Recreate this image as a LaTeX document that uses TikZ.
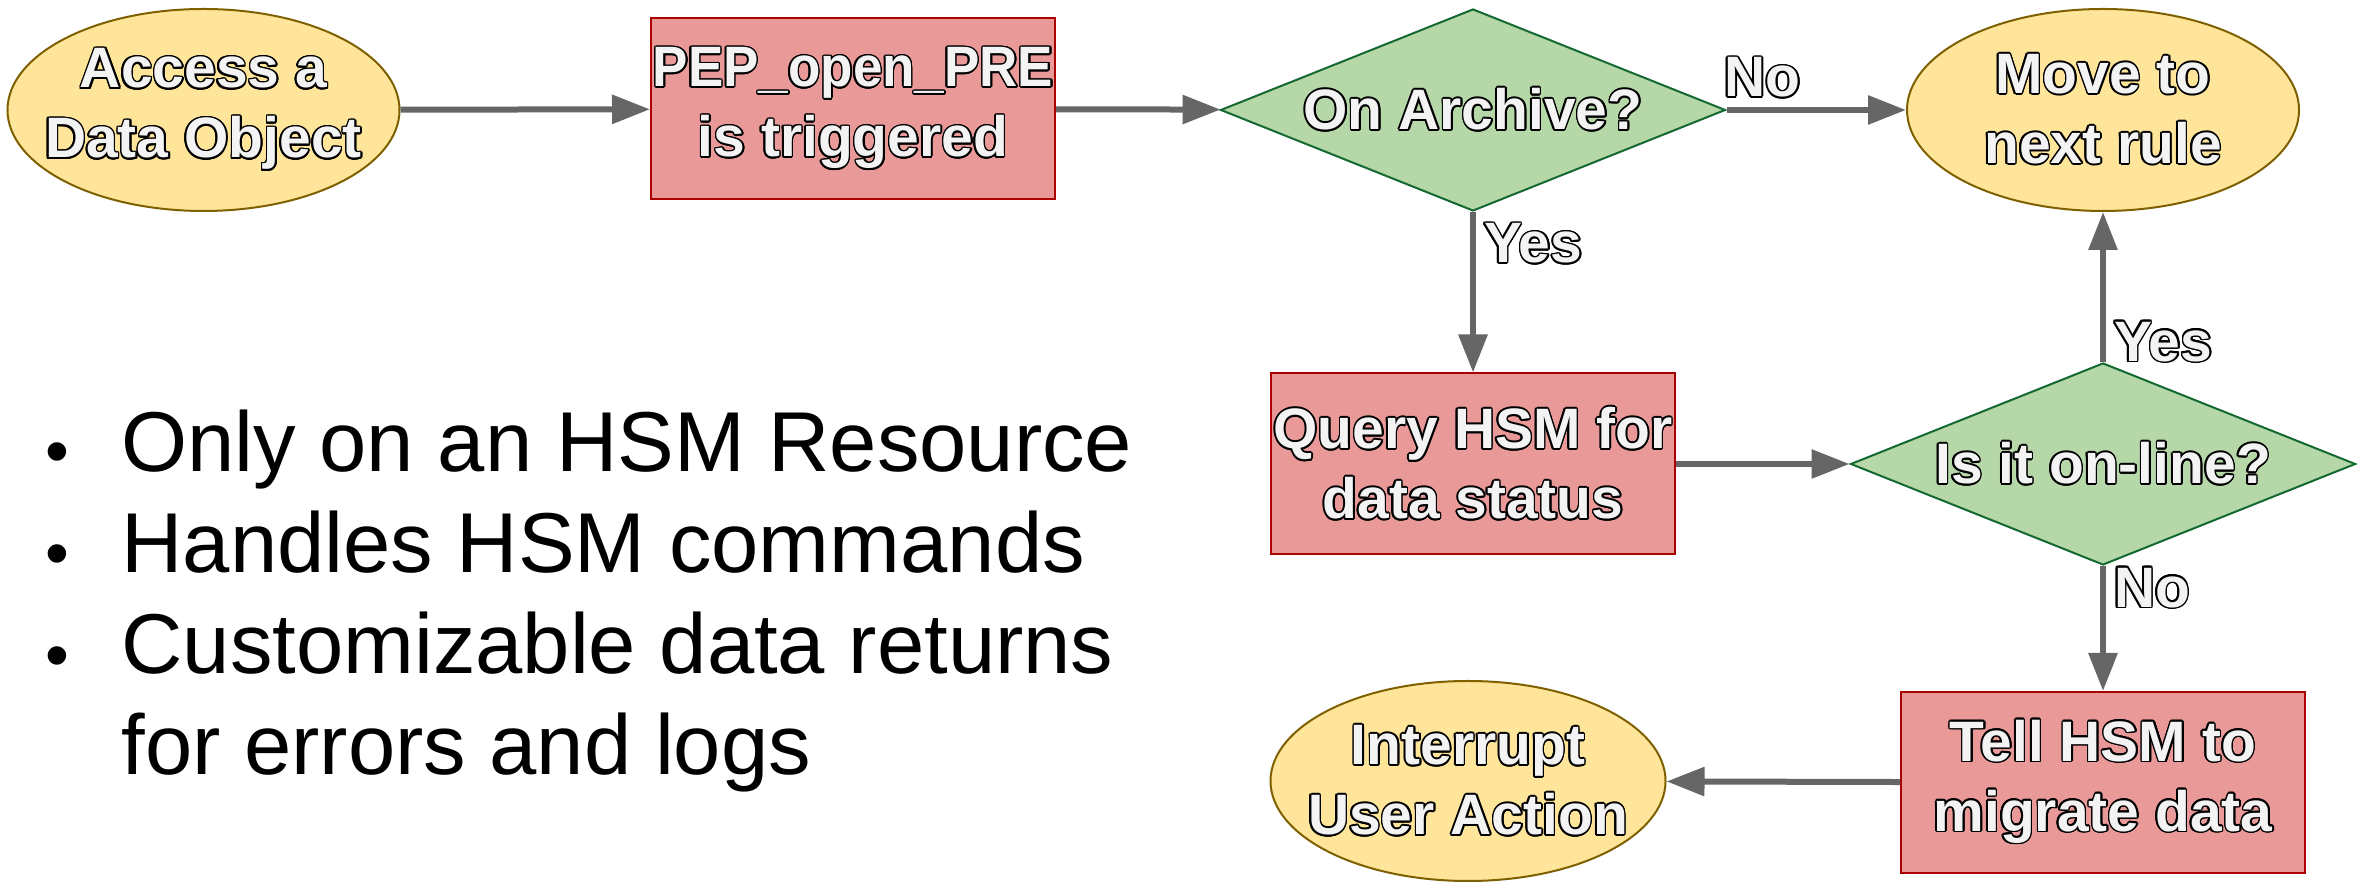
\documentclass[tikz,border=0pt]{standalone}
\usepackage{fontspec}
\setmainfont{Liberation Sans}
\usepackage{xcolor}
\usepackage{contour}
\usetikzlibrary{shapes.geometric,arrows.meta}
\contourlength{0.8pt}
\newcommand{\outl}[1]{\contour{black}{#1}}

\begin{document}
\begin{tikzpicture}[x=0.5pt,y=0.5pt,
  flowText/.style={text=textColor,font=\bfseries\fontsize{28.5}{35}\selectfont,align=center},
  startStop/.style={ellipse,draw=ovalDraw,fill=ovalFill,line width=1pt,minimum width=196pt,minimum height=101pt,inner sep=0pt},
  process/.style={rectangle,draw=boxDraw,fill=boxFill,line width=1pt,minimum width=202pt,minimum height=90.5pt,inner xsep=0pt,flowText},
  decision/.style={diamond,draw=diaDraw,fill=diaFill,line width=1pt,minimum width=252.5pt,minimum height=101pt,inner sep=0pt},
  flowArrow/.style={draw=arrowColor,line width=3pt,-{Triangle[length=19pt,width=14pt]}},
  edgeLabel/.style={flowText,inner sep=4pt},
  bulletDot/.style={inner sep=0pt,font=\fontsize{34}{40}\selectfont},
  bulletText/.style={anchor=base west,inner sep=0pt,font=\fontsize{42.5}{50}\selectfont}]
\definecolor{fillColor}{RGB}{255,255,255}
\definecolor{textColor}{RGB}{243,243,243}
\definecolor{ovalFill}{RGB}{255,229,153}
\definecolor{ovalDraw}{RGB}{127,96,0}
\definecolor{boxFill}{RGB}{234,153,153}
\definecolor{boxDraw}{RGB}{170,0,0}
\definecolor{diaFill}{RGB}{182,215,168}
\definecolor{diaDraw}{RGB}{20,105,50}
\definecolor{arrowColor}{RGB}{102,102,102}
\path[use as bounding box,fill=fillColor] (0,0) rectangle (2364,882);

% flow chart
\node[startStop,label={[flowText]center:{\outl{Access a}\\\outl{Data Object}}}] (access) at (203.5,772) {};
\node[process] (pep) at (853,773) {\scalebox{0.93}[1]{\outl{PEP\_open\_PRE}}\\\outl{is triggered}};
\node[decision,label={[flowText]center:{\outl{On Archive?}}}] (archive) at (1473,772) {};
\node[startStop,label={[flowText]center:{\outl{Move to}\\\outl{next rule}}}] (next) at (2103,772) {};
\node[process] (query) at (1473,418) {\outl{Query HSM for}\\\outl{data status}};
\node[decision,label={[flowText]center:{\outl{Is it on-line?}}}] (online) at (2103,418) {};
\node[process] (migrate) at (2103,99.5) {\outl{Tell HSM to}\\\outl{migrate data}};
\node[startStop,minimum width=197.5pt,minimum height=100pt,label={[flowText]center:{\outl{Interrupt}\\\outl{User Action}}}] (interrupt) at (1468,101) {};

\path[flowArrow] (access) -- (pep);
\path[flowArrow] (pep) -- (archive);
\path[flowArrow] (archive.east) -- node[edgeLabel,above,pos=0.2] {\outl{No}} (next);
\path[flowArrow] (archive.south) -- node[edgeLabel,right,pos=0.2] {\outl{Yes}} (query);
\path[flowArrow] (query) -- (online);
\path[flowArrow] (online.north) -- node[edgeLabel,right,pos=0.13] {\outl{Yes}} (next);
\path[flowArrow] (online.south) -- node[edgeLabel,right,pos=0.18] {\outl{No}} (migrate);
\path[flowArrow] (migrate) -- (interrupt);

% bullet list
\node[bulletDot] (dotA) at (57,423) {\textbullet};
\node[bulletDot] (dotB) at (57,321) {\textbullet};
\node[bulletDot] (dotC) at (57,219) {\textbullet};
\node[bulletText] (itemA) at (121,410) {Only on an HSM Resource};
\node[bulletText] (itemB) at (121,309) {Handles HSM commands};
\node[bulletText] (itemC) at (121,208) {Customizable data returns};
\node[bulletText] (itemD) at (121,107) {for errors and logs};
\end{tikzpicture}
\end{document}
